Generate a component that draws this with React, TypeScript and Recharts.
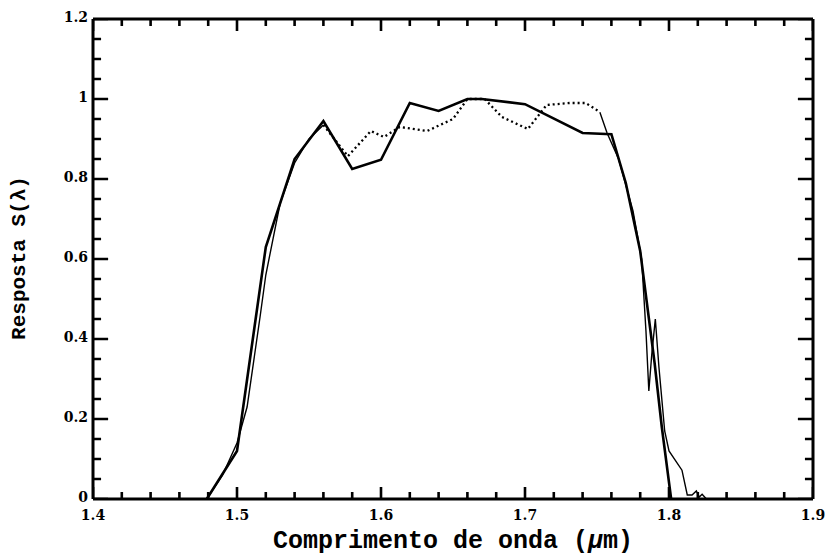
import React from "react";
import { LineChart, Line, XAxis, YAxis } from "recharts";

// wavelength (um) / response for the coarse thick curve
const thickLambda = [1.479, 1.5, 1.52, 1.54, 1.56, 1.58, 1.6, 1.62, 1.64, 1.66, 1.67, 1.7, 1.74, 1.76, 1.77, 1.78, 1.79, 1.795, 1.8015];
const thickResp = [0, 0.12, 0.63, 0.85, 0.945, 0.825, 0.848, 0.99, 0.97, 1.0, 1.0, 0.987, 0.915, 0.912, 0.79, 0.62, 0.34, 0.18, 0];

// thin curve, rising edge
const leftLambda = [1.468, 1.479, 1.49, 1.5, 1.507, 1.516, 1.52, 1.53, 1.54, 1.55, 1.56];
const leftResp = [0, 0, 0.06, 0.14, 0.23, 0.455, 0.56, 0.74, 0.84, 0.9, 0.935];

// dotted middle part
const dotLambda = [1.56, 1.577, 1.593, 1.602, 1.613, 1.632, 1.65, 1.66, 1.672, 1.684, 1.702, 1.715, 1.731, 1.742, 1.748, 1.752];
const dotResp = [0.935, 0.857, 0.92, 0.905, 0.93, 0.92, 0.95, 1.0, 1.0, 0.955, 0.925, 0.985, 0.99, 0.99, 0.977, 0.967];

// thin curve, falling edge with the spike and the tail
const rightLambda = [1.752, 1.757, 1.765, 1.775, 1.781, 1.784, 1.786, 1.788, 1.7905, 1.793, 1.797, 1.8, 1.809, 1.8127, 1.816, 1.819, 1.821, 1.823, 1.826];
const rightResp = [0.967, 0.915, 0.85, 0.72, 0.6, 0.42, 0.27, 0.36, 0.45, 0.33, 0.17, 0.12, 0.072, 0.01, 0.01, 0.02, 0.005, 0.012, 0];

const xTicks = [1.4, 1.42, 1.44, 1.46, 1.48, 1.5, 1.52, 1.54, 1.56, 1.58, 1.6, 1.62, 1.64, 1.66, 1.68, 1.7, 1.72, 1.74, 1.76, 1.78, 1.8, 1.82, 1.84, 1.86, 1.88, 1.9];
const yTicks = [0, 0.05, 0.1, 0.15, 0.2, 0.25, 0.3, 0.35, 0.4, 0.45, 0.5, 0.55, 0.6, 0.65, 0.7, 0.75, 0.8, 0.85, 0.9, 0.95, 1, 1.05, 1.1, 1.15, 1.2];

const X0 = 1.4, X1 = 1.9, Y0 = 0, Y1 = 1.2;

const zip = (xs: number[], ys: number[]) => xs.map((x, i) => ({ x, y: ys[i] }));
const thick = zip(thickLambda, thickResp);
const thinLeft = zip(leftLambda, leftResp);
const dotted = zip(dotLambda, dotResp);
const thinRight = zip(rightLambda, rightResp);

const FONT = "'DejaVu Serif', serif";
const isMajorX = (v: number) => Math.abs(v * 10 - Math.round(v * 10)) < 1e-6;
const isMajorY = (v: number) => Math.abs(v * 5 - Math.round(v * 5)) < 1e-6;
const fmt = (v: number) => String(Math.round(v * 10) / 10);

// inward tick marks, lengths in data units (about 12/7 px and 15/8 px)
const xTickLen = (v: number) => (isMajorX(v) ? 0.03 : 0.0175);
const yTickLen = (v: number) => (isMajorY(v) ? 0.0105 : 0.0056);

// each tick is a two-point stroke, separated by a null gap
const xTickMarks = (base: number, dir: number) =>
  xTicks.flatMap((v) => [{ x: v, y: base }, { x: v, y: base + dir * xTickLen(v) }, { x: v, y: null }]);
const yTickMarks = (base: number, dir: number) =>
  yTicks.flatMap((v) => [{ x: base, y: v }, { x: base + dir * yTickLen(v), y: v }, { x: base, y: null }]);

const tickText = { fontFamily: FONT, fontWeight: 700, fontSize: 14, fill: "#000" };

const BottomLabel = (p: any) =>
  isMajorX(p.payload.value) ? (
    <text x={p.x} y={Number(p.y) + 21} textAnchor="middle" {...tickText}>
      {fmt(p.payload.value)}
    </text>
  ) : (
    <g />
  );

const LeftLabel = (p: any) =>
  isMajorY(p.payload.value) ? (
    <text x={Number(p.x) - 5} y={Number(p.y) + 3} textAnchor="end" {...tickText}>
      {fmt(p.payload.value)}
    </text>
  ) : (
    <g />
  );

const frame = { stroke: "#000", strokeWidth: 3 };

export default function App() {
  const tickLine = (key: string, data: any[]) => (
    <Line key={key} xAxisId="b" yAxisId="l" data={data} dataKey="y" stroke="#000" strokeWidth={2.6}
      dot={false} connectNulls={false} isAnimationActive={false} />
  );
  return (
    <div style={{ position: "absolute", left: 0, top: 0, width: 830, height: 558, background: "#fff" }}>
      <LineChart width={830} height={558} margin={{ top: 9, right: 7, bottom: 29, left: 33 }}>
        <XAxis xAxisId="b" dataKey="x" type="number" domain={[X0, X1]} ticks={xTicks} interval={0}
          height={30} tickSize={0} tickMargin={0} axisLine={frame} tickLine={false} tick={BottomLabel} allowDataOverflow />
        <XAxis xAxisId="t" orientation="top" dataKey="x" type="number" domain={[X0, X1]} ticks={xTicks}
          height={10} axisLine={frame} tickLine={false} tick={false} allowDataOverflow />
        <YAxis yAxisId="l" type="number" domain={[Y0, Y1]} ticks={yTicks} interval={0}
          width={60} tickSize={0} tickMargin={0} axisLine={frame} tickLine={false} tick={LeftLabel} allowDataOverflow />
        <YAxis yAxisId="r" orientation="right" type="number" domain={[Y0, Y1]} ticks={yTicks}
          width={10} axisLine={frame} tickLine={false} tick={false} allowDataOverflow />

        {tickLine("tb", xTickMarks(Y0, 1))}
        {tickLine("tt", xTickMarks(Y1, -1))}
        {tickLine("tl", yTickMarks(X0, 1))}
        {tickLine("tr", yTickMarks(X1, -1))}

        <Line xAxisId="b" yAxisId="l" data={thinLeft} dataKey="y" stroke="#000" strokeWidth={1.4} dot={false} isAnimationActive={false} />
        <Line xAxisId="b" yAxisId="l" data={dotted} dataKey="y" stroke="#000" strokeWidth={2.3} strokeDasharray="2 3" dot={false} isAnimationActive={false} />
        <Line xAxisId="b" yAxisId="l" data={thinRight} dataKey="y" stroke="#000" strokeWidth={1.4} dot={false} isAnimationActive={false} />
        <Line xAxisId="b" yAxisId="l" data={thick} dataKey="y" stroke="#000" strokeWidth={2.6} dot={false} isAnimationActive={false} />
      </LineChart>
      <div style={{ position: "absolute", left: 0, width: 830, paddingLeft: 76, boxSizing: "border-box", top: 529, textAlign: "center",
        fontFamily: "'Liberation Mono', monospace", fontWeight: 700, fontSize: 25, lineHeight: "26px", color: "#000" }}>
        Comprimento de onda (<i>μ</i>m)
      </div>
      <div style={{ position: "absolute", left: 20, top: 258, transform: "translate(-50%, -50%) rotate(-90deg)", whiteSpace: "nowrap",
        fontFamily: "'Liberation Mono', monospace", fontWeight: 700, fontSize: 21, lineHeight: "22px", color: "#000" }}>
        Resposta S(λ)
      </div>
    </div>
  );
}
